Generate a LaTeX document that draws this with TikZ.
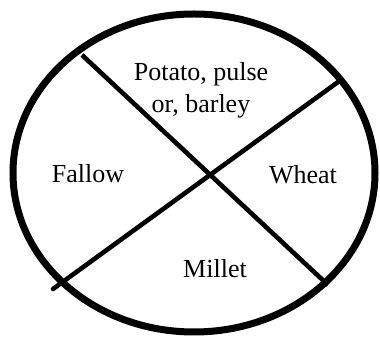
\documentclass[tikz,border=0pt]{standalone}
\usepackage{fontspec}
\setmainfont{Liberation Serif}
\newfontfamily\lblfont{Liberation Serif}
\begin{document}
\begin{tikzpicture}[x=1pt,y=1pt,
  rim/.style={line width=7pt},
  divider/.style={line width=4.6pt},
  lbl/.style={inner sep=0pt,font=\lblfont\fontsize{26}{31.7}\selectfont,align=center}]
\useasboundingbox (0,0) rectangle (380,339);
\node[draw=none,inner sep=0pt,minimum size=0pt] (c) at (194,166) {};
\draw[rim] (c) ellipse [x radius=181, y radius=159];
\coordinate (a1) at (82,284);
\coordinate (a2) at (328,54);
\coordinate (b1) at (338,257);
\coordinate (b2) at (53,50);
\draw[divider] (a1) -- (a2);
\draw[divider,line cap=round] (b1) -- (b2);
\node[lbl] (potato) at (201,249) {Potato, pulse\\or, barley};
\node[lbl,anchor=base] (fallow) at (88,156) {Fallow};
\node[lbl,anchor=base] (wheat) at (303,155) {Wheat};
\node[lbl,anchor=base] (millet) at (215,61) {Millet};
\end{tikzpicture}
\end{document}
